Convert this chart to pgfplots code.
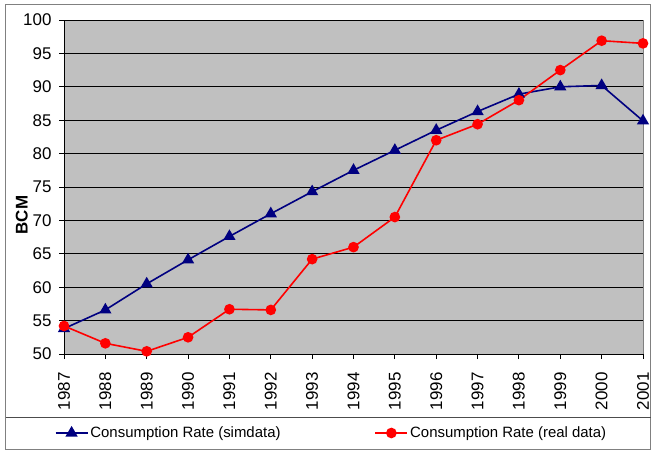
\documentclass[border=0pt]{standalone}
\usepackage{pgfplots}
\pgfplotsset{compat=1.18}
\usepackage{fontspec}
\setmainfont{Liberation Sans}
\definecolor{simblue}{HTML}{000080}
\definecolor{realred}{HTML}{FF0000}
\definecolor{plotgray}{HTML}{C0C0C0}
\begin{document}
\begin{tikzpicture}
\path[use as bounding box] (-64bp,-96bp) rectangle (587bp,354bp);
\begin{axis}[
  at={(0,0)}, anchor=south west,
  scale only axis, width=579bp, height=334bp,
  xmin=1987, xmax=2001, ymin=50, ymax=100,
  xtick={1987,...,2001}, ytick={50,55,...,100},
  axis lines=left, axis line style={-, black, line width=0.8bp},
  axis background/.style={fill=plotgray, draw=gray},
  ymajorgrids, major grid style={black, line width=0.8bp},
  tick align=outside, major tick length=5bp, tick style={black, line width=0.8bp},
  /pgf/number format/assume math mode=true,
  /pgf/number format/1000 sep={},
  xticklabel style={font=\fontsize{17}{17}\selectfont, anchor=north, yshift=-10bp},
  yticklabel style={font=\fontsize{17}{17}\selectfont, anchor=east, xshift=-4bp},
  xticklabel={\rotatebox{90}{\pgfmathprintnumber{\tick}}},
  ylabel={BCM},
  ylabel style={font=\fontsize{17}{17}\selectfont\bfseries, at={(rel axis cs:-0.073,0.416)}, anchor=center},
  clip=false,
  legend columns=2,
  legend style={draw=none, fill=none, at={(rel axis cs:0.5,0)}, anchor=center, xshift=-22bp, yshift=-79bp,
    font=\fontsize{15}{15}\selectfont,
    /tikz/every even column/.append style={column sep=92bp}},
  legend image code/.code={\draw[mark repeat=2,mark phase=2] plot coordinates {(0bp,0bp)(16bp,0bp)(32bp,0bp)};},
  every axis plot/.append style={line width=1.6bp},
]
\addplot[simblue, mark=triangle*, mark size=5.5bp, mark options={solid}] coordinates {
(1987,53.8) (1988,56.6) (1989,60.5) (1990,64.1) (1991,67.6) (1992,71.0) (1993,74.3)
(1994,77.5) (1995,80.5) (1996,83.5) (1997,86.3) (1998,88.9) (1999,90.0) (2000,90.2) (2001,84.9)};
\addlegendentry{Consumption Rate (simdata)}
\addplot[realred, mark=*, mark size=4.5bp] coordinates {
(1987,54.2) (1988,51.6) (1989,50.4) (1990,52.5) (1991,56.7) (1992,56.6) (1993,64.2)
(1994,66.0) (1995,70.5) (1996,82.0) (1997,84.4) (1998,88.0) (1999,92.5) (2000,96.9) (2001,96.5)};
\addlegendentry{Consumption Rate (real data)}
\end{axis}
\draw[gray, line width=1bp] (-58bp,-95bp) rectangle (586.5bp,349bp);
\draw[gray!60!black, line width=1bp] (-58bp,-63bp) -- (586.5bp,-63bp);
\end{tikzpicture}
\end{document}
